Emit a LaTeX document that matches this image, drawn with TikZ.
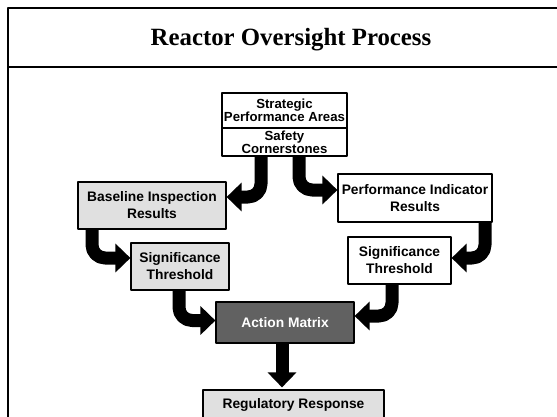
\documentclass[tikz,border=0pt]{standalone}
\usepackage{fontspec}
\setmainfont{Liberation Serif}
\setsansfont{Liberation Sans}
\usepackage{tikz}
\definecolor{shade}{rgb}{0.88,0.88,0.88}
\definecolor{darkshade}{rgb}{0.38,0.38,0.38}
\usetikzlibrary{arrows.meta}

\begin{document}
\begin{tikzpicture}[line cap=round,line join=round,x=1pt,y=-1pt,
	box/.style={draw,line width=1.2pt,inner sep=0pt,align=center,
		font=\sffamily\bfseries\fontsize{13.8}{17}\selectfont},
	topbox/.style={box,fill=white,minimum width=125pt,
		font=\sffamily\bfseries\fontsize{13.2}{12.8}\selectfont},
	bigarrow/.style={line width=13pt,line cap=butt,rounded corners=13pt,
		-{Triangle[length=15pt,width=28pt]}}]
	\clip (0,0) rectangle (557,416);
	\draw [line width=2pt] (8,8) rectangle (600,460);
	\draw [line width=2pt] (8,67) -- (600,67);
	\node [font=\bfseries\fontsize{24.8}{30}\selectfont] (title) at (291,40) {Reactor Oversight Process};
	% boxes
	\node [topbox,minimum height=35pt] (spa) at (284.5,110.5) {Strategic\\Performance Areas};
	\node [topbox,minimum height=28pt] (sc) at (284.5,142) {Safety\\Cornerstones};
	\node [box,fill=shade,minimum width=148pt,minimum height=47pt] (base) at (152,205.5) {Baseline Inspection\\Results};
	\node [box,fill=white,minimum width=154pt,minimum height=48pt] (pir) at (415,198) {Performance Indicator\\Results};
	\node [box,fill=shade,minimum width=98pt,minimum height=47pt] (lsig) at (180,266.5) {Significance\\Threshold};
	\node [box,fill=white,minimum width=103pt,minimum height=47pt] (rsig) at (399.5,260.5) {Significance\\Threshold};
	\node [box,fill=darkshade,text=white,minimum width=138pt,minimum height=41pt] (act) at (285,322.5) {Action Matrix};
	\node [box,fill=shade,minimum width=181pt,minimum height=30pt] (reg) at (293.5,405) {Regulatory Response};
	% arrows
	\draw [bigarrow] ([xshift=-23.5pt]sc.south) |- ([yshift=8.5pt]base.east);
	\draw [bigarrow] ([xshift=14.5pt]sc.south) |- ([yshift=8pt]pir.west);
	\draw [bigarrow] ([xshift=-60pt]base.south) |- ([yshift=8.5pt]lsig.west);
	\draw [bigarrow] ([xshift=-1pt]lsig.south) |- ([yshift=2pt]act.west);
	\draw [bigarrow] ([xshift=70pt]pir.south) |- ([yshift=2.5pt]rsig.east);
	\draw [bigarrow] ([xshift=-7.5pt]rsig.south) |- ([yshift=6.5pt]act.east);
	\draw [bigarrow] ([xshift=-3pt]act.south) -- ([xshift=-11.5pt,yshift=2pt]reg.north);
\end{tikzpicture}
\end{document}
